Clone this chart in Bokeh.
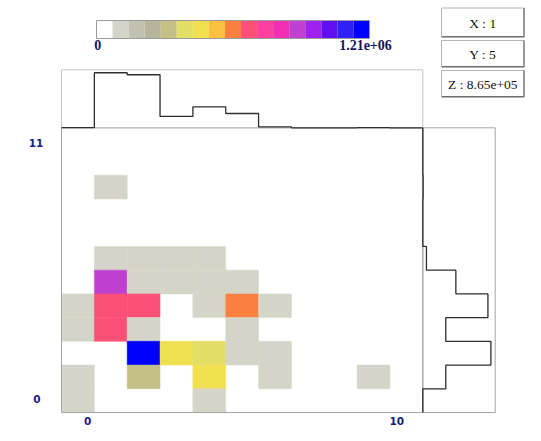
from bokeh.plotting import figure
from bokeh.models import Range1d, ColumnDataSource, LinearColorMapper
from bokeh.core.properties import value
from bokeh.transform import transform
from bokeh.embed import file_html
from bokeh.resources import INLINE

# ---------------- data ----------------
n_cols = 11
n_rows = 12
z_max = 1.21e6

# non-empty cells of the 2D histogram (column, row, content)
cell_x = [1, 1, 2, 3, 4, 1, 2, 3, 4, 5, 0, 1, 2, 4, 5, 6, 0, 1, 2, 5, 2, 3, 4, 5, 6, 0, 2, 4, 6, 9, 0, 4]
cell_y = [9, 6, 6, 6, 6, 5, 5, 5, 5, 5, 4, 4, 4, 4, 4, 4, 3, 3, 3, 3, 2, 2, 2, 2, 2, 1, 1, 1, 1, 1, 0, 0]
cell_z = [2.5e4, 2.5e4, 2.5e4, 2.5e4, 2.5e4,
          8.65e5, 2.5e4, 2.5e4, 2.5e4, 2.5e4,
          2.0e4, 6.4e5, 6.4e5, 2.5e4, 5.7e5, 2.5e4,
          2.0e4, 6.4e5, 2.5e4, 2.5e4,
          1.21e6, 4.2e5, 3.4e5, 2.5e4, 2.5e4,
          2.0e4, 2.6e5, 4.2e5, 2.5e4, 1.5e4,
          1.5e4, 2.5e4]

# projections shown in the marginal histograms
x_proj = [1.0e4, 2.23e6, 2.15e6, 4.6e5, 8.5e5, 5.8e5, 4.0e4, 0, 0, 1.0e4, 0]
y_proj = [0, 6.95e5, 2.06e6, 6.95e5, 1.97e6, 1.0e6, 1.1e5, 0, 0, 1.0e4, 0, 0]

palette = ["#ffffff", "#d4d4c8", "#c2c2b2", "#b6b49a", "#c4c088", "#e2de66",
           "#f0e050", "#fcc040", "#fc8040", "#fc5078", "#fc40a0", "#f030b0",
           "#c040d0", "#a020f0", "#6010f0", "#3020f8", "#0000ff"]

x_tick_labels = ["0", "10"]
x_tick_pos = [0.80, 10.21]
y_tick_labels = ["0", "11"]
y_tick_pos = [0.58, 11.38]
sel_x, sel_y = 1, 5

# ---------------- layout helpers (pixels from top-left) ----------------
W, H = 525, 425


def fx(px):
    return px


def fy(py):
    return H - py


def rng(d0, p0, d1, p1, L):
    k = (p1 - p0) / (d1 - d0)
    start = d0 - p0 / k
    return Range1d(start, start + L / k)


top_max = 2.35e6
right_max = 2.19e6
hm_left, hm_right, hm_top, hm_bottom = 61, 422.3, 127.3, 412

p = figure(width=W, height=H, output_backend="svg", toolbar_location=None,
           x_range=Range1d(0, W), y_range=Range1d(0, H),
           x_axis_location=None, y_axis_location=None, min_border=0)
p.grid.visible = False
p.outline_line_color = None
p.background_fill_color = "white"
p.border_fill_color = "white"

p.extra_x_ranges = {
    "hx": rng(0, fx(hm_left), n_cols, fx(hm_right), W),
    "rx": rng(0, fx(hm_right), right_max, fx(494.7), W),
    "cbx": rng(0, fx(96), len(palette), fx(369), W),
}
p.extra_y_ranges = {
    "hy": rng(0, fy(hm_bottom), n_rows, fy(hm_top), H),
    "ty": rng(0, fy(hm_top), top_max, fy(69.3), H),
}

# ---------------- heat map ----------------
mapper = LinearColorMapper(palette=palette[1:], low=0, high=z_max)
src = ColumnDataSource(dict(
    l=[x for x in cell_x], r=[x + 1 for x in cell_x],
    b=[y for y in cell_y], t=[y + 1 for y in cell_y], z=cell_z))
p.quad(left="l", right="r", bottom="b", top="t", source=src,
       fill_color=transform("z", mapper), line_color=transform("z", mapper),
       line_width=0.5, x_range_name="hx", y_range_name="hy")

# frames
p.quad(left=[0], right=[n_cols], bottom=[0], top=[n_rows], fill_color=None,
       line_color="#a6a6a6", line_width=1, x_range_name="hx", y_range_name="hy")
p.quad(left=[0], right=[n_cols], bottom=[0], top=[top_max], fill_color=None,
       line_color="#c4c4c4", line_width=1, x_range_name="hx", y_range_name="ty")
p.quad(left=[0], right=[right_max], bottom=[0], top=[n_rows], fill_color=None,
       line_color="#a6a6a6", line_width=1, x_range_name="rx", y_range_name="hy")

# top marginal histogram
sx, sy = [], []
for i, v in enumerate(x_proj):
    sx += [i, i + 1]
    sy += [v, v]
p.line(sx, sy, line_color="#2e2e2e", line_width=1.3, x_range_name="hx", y_range_name="ty")

# right marginal histogram
rx, ry = [], []
for r in reversed(range(n_rows)):
    rx += [y_proj[r], y_proj[r]]
    ry += [r + 1, r]
p.line(rx, ry, line_color="#2e2e2e", line_width=1.3, x_range_name="rx", y_range_name="hy")

# axis labels
p.text(x=x_tick_pos, y=[fy(424)] * 2, text=x_tick_labels,
       text_align="center", text_baseline="bottom", text_color="#1c1c84",
       text_font=value("DejaVu Sans"), text_font_size=value("10.5px"),
       text_font_style="bold", x_range_name="hx")
p.text(x=[fx(36.5), fx(35.5)], y=y_tick_pos, text=y_tick_labels,
       text_align="center", text_baseline="middle", text_color="#1c1c84",
       text_font=value("DejaVu Sans"), text_font_size=value("10.5px"),
       text_font_style="bold", y_range_name="hy")

# ---------------- colour bar ----------------
cb_top, cb_bot = fy(20), fy(38)
p.quad(left=list(range(len(palette))), right=list(range(1, len(palette) + 1)),
       bottom=[cb_bot] * len(palette), top=[cb_top] * len(palette),
       fill_color=palette, line_color=None, x_range_name="cbx")
p.quad(left=[0], right=[len(palette)], bottom=[cb_bot], top=[cb_top], fill_color=None,
       line_color="#9a9a9a", line_width=1, x_range_name="cbx")
p.text(x=[fx(97.3), fx(365)], y=[fy(44)] * 2, text=["0", f"{z_max:.2e}"],
       text_align="center", text_baseline="middle", text_color="#14145a",
       text_font=value("Liberation Serif"), text_font_size=value("14px"),
       text_font_style="bold")

# ---------------- info boxes ----------------
sel_z = dict(((x, y), z) for x, y, z in zip(cell_x, cell_y, cell_z))[(sel_x, sel_y)]
info = [f"X : {sel_x}", f"Y : {sel_y}", f"Z : {sel_z:.2e}"]
box_tops = [7.5, 40, 70]
box_bots = [36.7, 66.7, 96.7]
bl, br = fx(441), fx(523.5)
p.quad(left=[bl] * 3, right=[br] * 3, top=[fy(t) for t in box_tops],
       bottom=[fy(b) for b in box_bots], fill_color="white",
       line_color="#b4b4b4", line_width=1)
for t, b in zip(box_tops, box_bots):
    p.line([bl + 0.5, br, br], [fy(b) + 0.5, fy(b) + 0.5, fy(t)], line_color="#6e6e6e", line_width=1.2)
p.text(x=[(bl + br) / 2] * 3, y=[fy((t + b) / 2 + 1) for t, b in zip(box_tops, box_bots)],
       text=info, text_align="center", text_baseline="middle", text_color="#111111",
       text_font=value("Liberation Serif"), text_font_size=value("13.5px"))

open("out.html", "w").write(file_html(p, INLINE))
